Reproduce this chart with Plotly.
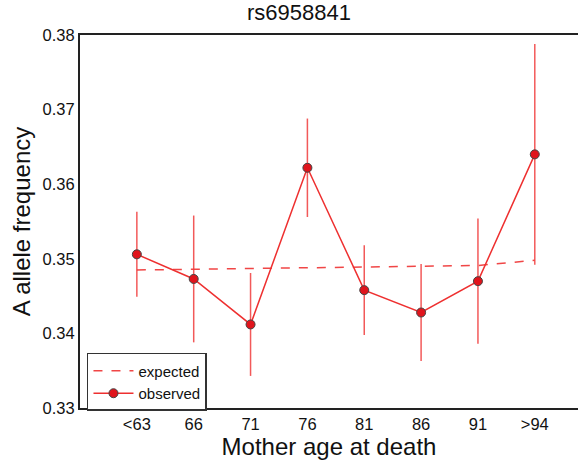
import plotly.graph_objects as go

categories = ["<63", "66", "71", "76", "81", "86", "91", ">94"]
observed = [0.3506, 0.3473, 0.3412, 0.3622, 0.3458, 0.3428, 0.3470, 0.3640]
observed_err = [0.0057, 0.0085, 0.0069, 0.0066, 0.0060, 0.0065, 0.0084, 0.0148]
expected = [0.3485, 0.3486, 0.3487, 0.3488, 0.3489, 0.3491, 0.3491, 0.3498]

xpos = list(range(len(categories)))
FONT = "Liberation Sans, Arial, sans-serif"

fig = go.Figure()
fig.add_trace(go.Scatter(
    x=xpos, y=expected, mode="lines", name="expected",
    line=dict(color="rgba(238,50,50,0.9)", width=1.5, dash="dash"),
))
fig.add_trace(go.Scatter(
    x=xpos, y=observed, mode="lines+markers", name="observed",
    line=dict(color="#ee3030", width=1.5),
    marker=dict(size=9, color="#e0141c", line=dict(color="#444444", width=1)),
    error_y=dict(type="data", array=observed_err, visible=True,
                 color="rgba(240,60,60,0.85)", thickness=1.5, width=0),
))

fig.update_layout(
    width=578, height=464,
    margin=dict(l=80, r=0, t=35, b=56),
    paper_bgcolor="white", plot_bgcolor="white",
    font=dict(family=FONT, color="#111111"),
    title=dict(text="rs6958841", x=299 / 578, xref="container", xanchor="center",
               y=1 - 12 / 464, yref="container", yanchor="middle",
               font=dict(size=22, color="#111111")),
    showlegend=True,
    legend=dict(x=0.014, y=-0.008, xanchor="left", yanchor="bottom",
                bordercolor="#333333", borderwidth=1.5, bgcolor="white",
                font=dict(size=15, color="#111111"), tracegroupgap=0,
                itemwidth=40),
)
fig.update_xaxes(
    range=[-1, 7.76], tickvals=xpos, ticktext=categories,
    showline=True, linecolor="#222222", linewidth=2, mirror=True,
    showgrid=False, zeroline=False, ticks="", tickfont=dict(size=16.5),
    title=dict(text="Mother age at death", font=dict(size=24), standoff=4),
)
fig.update_yaxes(
    range=[0.33, 0.38], dtick=0.01, tickformat=".2f",
    showline=True, linecolor="#222222", linewidth=2, mirror=False,
    showgrid=False, zeroline=False, ticks="", tickfont=dict(size=16.5),
    title=dict(text="A allele frequency", font=dict(size=24), standoff=5),
)

fig.write_html("out.html")
